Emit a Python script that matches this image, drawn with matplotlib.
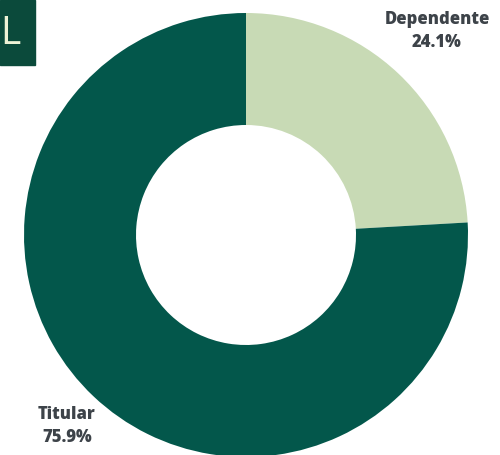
import matplotlib.pyplot as plt
from matplotlib.patches import Rectangle

plt.rcParams['font.family'] = ['Open Sans', 'DejaVu Sans']

categories = ["Dependente", "Titular"]
shares = [24.1, 75.9]
colors = ["#c8dab5", "#03574b"]

W, H = 500, 455
fig = plt.figure(figsize=(W / 100, H / 100), dpi=100)
ax = fig.add_axes([0, 0, 1, 1])

cx, cy, r = 246, H - 235, 222
ax.pie(shares, colors=colors, startangle=90, counterclock=False,
       center=(cx, cy), radius=r, frame=True,
       wedgeprops=dict(width=112, linewidth=0))
ax.set_xlim(0, W)
ax.set_ylim(0, H)
ax.set_aspect("equal")
ax.axis("off")

# labels outside the ring
label_pos = {"Dependente": (437, H - 31), "Titular": (67, H - 426)}
for name, val in zip(categories, shares):
    x, y = label_pos[name]
    ax.text(x, y, f"{name}\n{val}%", ha="center", va="center",
            fontsize=12, fontweight="heavy", color="#3d4349",
            linespacing=1.45)

# corner tag
ax.add_patch(Rectangle((0, H - 65), 35, 65, color="#0b4a3b", zorder=5))
ax.text(0, H - 34, "L", fontsize=28, color="#eef3d6", ha="left",
        va="center", fontweight="normal", zorder=6)

fig.savefig("out.png", dpi=100)
